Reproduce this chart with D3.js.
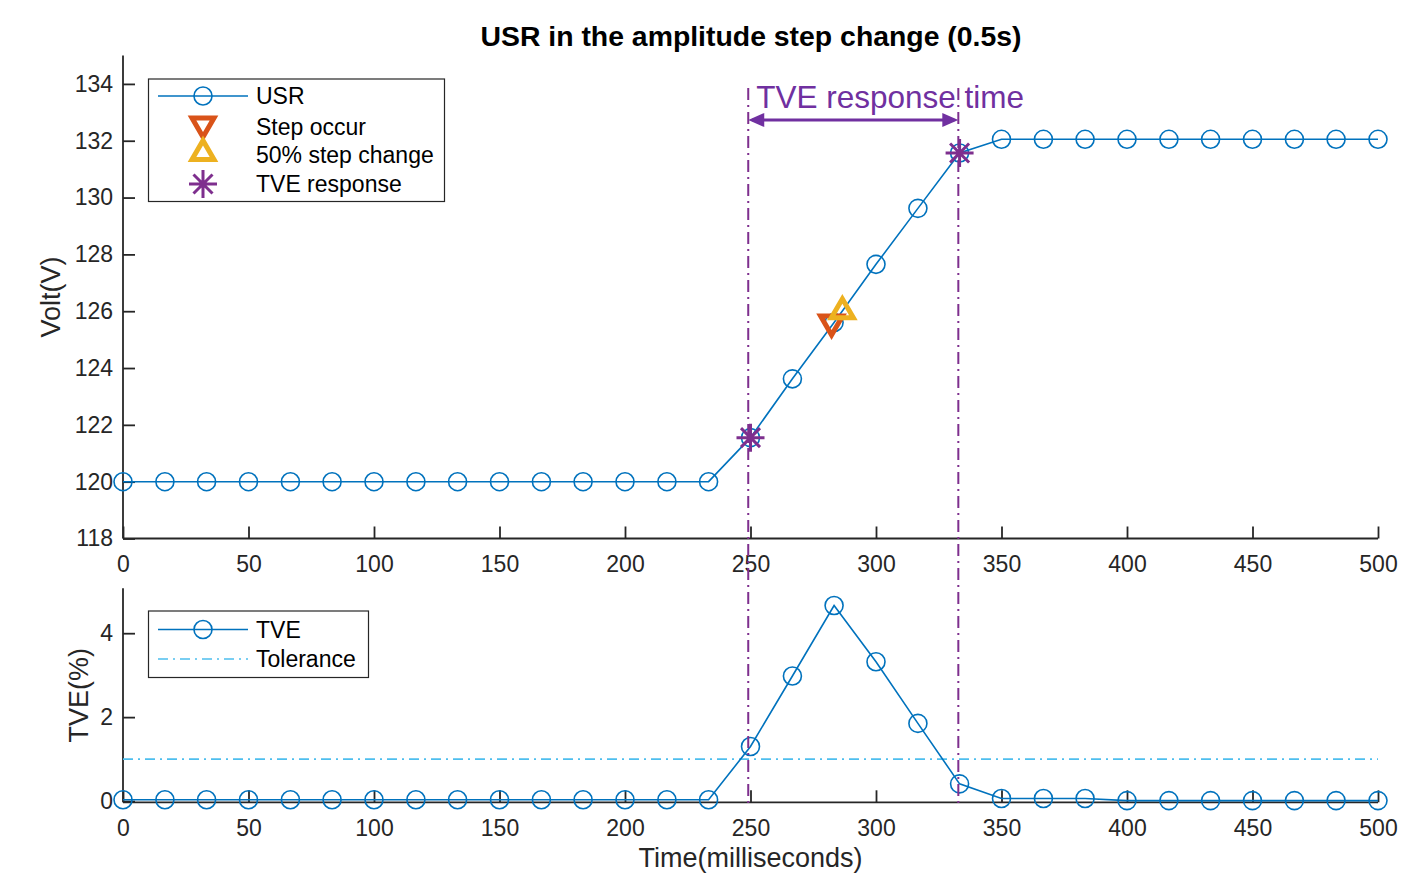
<!DOCTYPE html>
<html>
<head>
<meta charset="utf-8">
<script src="https://cdn.jsdelivr.net/npm/d3@7"></script>
<style>
  html, body { margin: 0; padding: 0; background: #fff; }
  svg { display: block; font-family: "Liberation Sans", Arial, Helvetica, sans-serif; }
</style>
</head>
<body>
<svg id="chart" width="1401" height="873"></svg>
<script>
// ---------------- DATA ----------------
const timeMs = [0, 16.7, 33.3, 50, 66.7, 83.3, 100, 116.7, 133.3, 150, 166.7, 183.3, 200, 216.7, 233.3,
  250, 266.7, 283.3, 300, 316.7, 333.3, 350, 366.7, 383.3, 400, 416.7, 433.3, 450, 466.7, 483.3, 500];
const usrVolt = [120, 120, 120, 120, 120, 120, 120, 120, 120, 120, 120, 120, 120, 120, 120,
  121.55, 123.62, 125.6, 127.65, 129.62, 131.57, 132.05, 132.05, 132.05, 132.05, 132.05, 132.05, 132.05, 132.05, 132.05, 132.05];
const tvePct = [0.03, 0.03, 0.03, 0.03, 0.03, 0.03, 0.03, 0.03, 0.03, 0.03, 0.03, 0.03, 0.03, 0.03, 0.03,
  1.30, 2.98, 4.66, 3.32, 1.85, 0.41, 0.06, 0.06, 0.06, 0.01, 0.01, 0.01, 0.01, 0.01, 0.01, 0.01];
const stepOccur = { t: 282.3, v: 125.5 };
const halfStep = { t: 286.6, v: 126.1 };
const tveResponse = [{ t: 250, v: 121.55 }, { t: 333.3, v: 131.57 }];
const responseLines = [249.1, 332.8];
const tolerance = 1.0;
const xTicks = [0, 50, 100, 150, 200, 250, 300, 350, 400, 450, 500];
const yTicksTop = [118, 120, 122, 124, 126, 128, 130, 132, 134];
const yTicksBot = [0, 2, 4];
const titleText = "USR in the amplitude step change (0.5s)";
const xLabel = "Time(milliseconds)";
const yLabelTop = "Volt(V)";
const yLabelBot = "TVE(%)";
const annotText = "TVE response time";
const legendTop = ["USR", "Step occur", "50% step change", "TVE response"];
const legendBot = ["TVE", "Tolerance"];

// ---------------- STYLE ----------------
const C_BLUE = "#0072BD", C_ORANGE = "#D95319", C_YELLOW = "#EDB120",
      C_PURPLE = "#7E2F8E", C_ANN = "#7030A0", C_TOL = "#4DBEEE", C_AX = "#262626";
const FONT_TICK = 23, FONT_LAB = 27, FONT_TITLE = 28.4, FONT_LEG = 23;
const TICK_LEN = 12;

const svg = d3.select("#chart");

const x = d3.scaleLinear().domain([0, 500]).range([123, 1378]);
const yTop = d3.scaleLinear().domain([118, 135]).range([538.5, 55.5]);
const yBot = d3.scaleLinear().domain([-0.03, 5.07]).range([802.3, 588.3]);

// marker helpers
const circleR = 9;
function triPath(down, w, h) {
  return down
    ? `M${-w/2},${-h/2}L${w/2},${-h/2}L0,${h/2}Z`
    : `M${-w/2},${h/2}L${w/2},${h/2}L0,${-h/2}Z`;
}
function starPath(a, d) {
  return `M${-a},0L${a},0M0,${-a}L0,${a}M${-d},${-d}L${d},${d}M${-d},${d}L${d},${-d}`;
}
function drawCircle(g, cx, cy) {
  g.append("circle").attr("cx", cx).attr("cy", cy).attr("r", circleR)
    .attr("fill", "none").attr("stroke", C_BLUE).attr("stroke-width", 1.6);
}
function drawTri(g, cx, cy, down, color) {
  g.append("path").attr("d", triPath(down, 22, 19)).attr("transform", `translate(${cx},${cy})`)
    .attr("fill", "none").attr("stroke", color).attr("stroke-width", 5).attr("stroke-linejoin", "miter");
}
function drawStar(g, cx, cy) {
  g.append("path").attr("d", starPath(14, 9.5)).attr("transform", `translate(${cx},${cy})`)
    .attr("fill", "none").attr("stroke", C_PURPLE).attr("stroke-width", 3);
}

function drawAxes(g, y, yTicks, yLabel, yLabelX) {
  const [y0, y1] = y.range();
  const xAxis = d3.axisBottom(x).tickValues(xTicks).tickSize(-TICK_LEN).tickPadding(TICK_LEN + 6).tickFormat(d3.format("d"));
  const gx = g.append("g").attr("transform", `translate(0,${y0})`).call(xAxis);
  const yAxis = d3.axisLeft(y).tickValues(yTicks).tickSize(-TICK_LEN).tickPadding(9).tickFormat(d3.format("d"));
  const gy = g.append("g").attr("transform", `translate(${x.range()[0]},0)`).call(yAxis);
  [gx, gy].forEach(a => {
    a.select(".domain").attr("stroke", C_AX).attr("stroke-width", 1.8);
    a.selectAll(".tick line").attr("stroke", C_AX).attr("stroke-width", 1.8);
    a.selectAll(".tick text").attr("fill", C_AX).attr("font-size", FONT_TICK)
      .attr("font-family", '"Liberation Sans", Arial, Helvetica, sans-serif');
  });
  gx.select(".domain").attr("d", `M${x.range()[0]},0H${x.range()[1]}`);
  gy.select(".domain").attr("d", `M0,${y0}V${y1}`);
  gx.selectAll(".tick text").attr("dy", "0.71em").attr("y", 17);
  gy.selectAll(".tick text").attr("x", -10);
  g.append("text").attr("transform", `translate(${yLabelX},${(y0 + y1) / 2}) rotate(-90)`)
    .attr("text-anchor", "middle").attr("font-size", FONT_LAB).attr("fill", C_AX).text(yLabel);
}

// ---------------- TOP AXES ----------------
const gTop = svg.append("g");
drawAxes(gTop, yTop, yTicksTop, yLabelTop, 60);

gTop.append("path")
  .attr("d", d3.line().x((d, i) => x(timeMs[i])).y(d => yTop(d))(usrVolt))
  .attr("fill", "none").attr("stroke", C_BLUE).attr("stroke-width", 1.6);
usrVolt.forEach((v, i) => drawCircle(gTop, x(timeMs[i]), yTop(v)));
drawTri(gTop, x(stepOccur.t), yTop(stepOccur.v), true, C_ORANGE);
drawTri(gTop, x(halfStep.t), yTop(halfStep.v), false, C_YELLOW);

// ---------------- BOTTOM AXES ----------------
const gBot = svg.append("g");
drawAxes(gBot, yBot, yTicksBot, yLabelBot, 88);
gBot.append("line").attr("x1", x(0)).attr("x2", x(500)).attr("y1", yBot(tolerance)).attr("y2", yBot(tolerance))
  .attr("stroke", C_TOL).attr("stroke-width", 1.6).attr("stroke-dasharray", "10,5,2,5");
gBot.append("path")
  .attr("d", d3.line().x((d, i) => x(timeMs[i])).y(d => yBot(d))(tvePct))
  .attr("fill", "none").attr("stroke", C_BLUE).attr("stroke-width", 1.6);
tvePct.forEach((v, i) => drawCircle(gBot, x(timeMs[i]), yBot(v)));

// ---------------- ANNOTATIONS ----------------
const gAnn = svg.append("g");
responseLines.forEach(t => {
  gAnn.append("line").attr("x1", x(t)).attr("x2", x(t)).attr("y1", 88).attr("y2", 806)
    .attr("stroke", C_PURPLE).attr("stroke-width", 2).attr("stroke-dasharray", "12,5,2,5");
});
tveResponse.forEach(p => drawStar(gAnn, x(p.t), yTop(p.v)));

const arrowY = 120;
const ax1 = x(responseLines[0]), ax2 = x(responseLines[1]);
const headL = 16, headW = 7;
gAnn.append("line").attr("x1", ax1 + 4).attr("x2", ax2 - 4).attr("y1", arrowY).attr("y2", arrowY)
  .attr("stroke", C_ANN).attr("stroke-width", 3);
gAnn.append("path").attr("d", `M${ax1},${arrowY}L${ax1 + headL},${arrowY - headW}L${ax1 + headL},${arrowY + headW}Z`).attr("fill", C_ANN);
gAnn.append("path").attr("d", `M${ax2},${arrowY}L${ax2 - headL},${arrowY - headW}L${ax2 - headL},${arrowY + headW}Z`).attr("fill", C_ANN);
gAnn.append("text").attr("x", ax1 + 8).attr("y", 108).attr("font-size", 31.5).attr("fill", C_ANN).text(annotText);

// ---------------- TITLE & X LABEL ----------------
svg.append("text").attr("x", 751).attr("y", 46).attr("text-anchor", "middle")
  .attr("font-size", FONT_TITLE).attr("font-weight", "bold").attr("fill", "#000").text(titleText);
svg.append("text").attr("x", 750.5).attr("y", 866.5).attr("text-anchor", "middle")
  .attr("font-size", FONT_LAB).attr("fill", C_AX).text(xLabel);

// ---------------- LEGENDS ----------------
function legendBox(bx, by, bw, bh) {
  svg.append("rect").attr("x", bx).attr("y", by).attr("width", bw).attr("height", bh)
    .attr("fill", "#fff").attr("stroke", C_AX).attr("stroke-width", 1.2);
}
legendBox(148.5, 79, 296, 122.5);
const legYs = [96, 127, 155, 184];
const gL1 = svg.append("g");
gL1.append("line").attr("x1", 158).attr("x2", 248).attr("y1", legYs[0]).attr("y2", legYs[0])
  .attr("stroke", C_BLUE).attr("stroke-width", 1.6);
drawCircle(gL1, 203, legYs[0]);
drawTri(gL1, 203, 127.5, true, C_ORANGE);
drawTri(gL1, 203, 150, false, C_YELLOW);
drawStar(gL1, 203, legYs[3]);
legendTop.forEach((t, i) => {
  gL1.append("text").attr("x", 256).attr("y", legYs[i]).attr("dy", "0.36em")
    .attr("font-size", FONT_LEG).attr("fill", "#000").text(t);
});

legendBox(148.5, 611, 220, 66.5);
const legYs2 = [629.5, 659];
const gL2 = svg.append("g");
gL2.append("line").attr("x1", 158).attr("x2", 248).attr("y1", legYs2[0]).attr("y2", legYs2[0])
  .attr("stroke", C_BLUE).attr("stroke-width", 1.6);
drawCircle(gL2, 203, legYs2[0]);
gL2.append("line").attr("x1", 158).attr("x2", 248).attr("y1", legYs2[1]).attr("y2", legYs2[1])
  .attr("stroke", C_TOL).attr("stroke-width", 1.6).attr("stroke-dasharray", "10,5,2,5");
legendBot.forEach((t, i) => {
  gL2.append("text").attr("x", 256).attr("y", legYs2[i]).attr("dy", "0.36em")
    .attr("font-size", FONT_LEG).attr("fill", "#000").text(t);
});
</script>
</body>
</html>
